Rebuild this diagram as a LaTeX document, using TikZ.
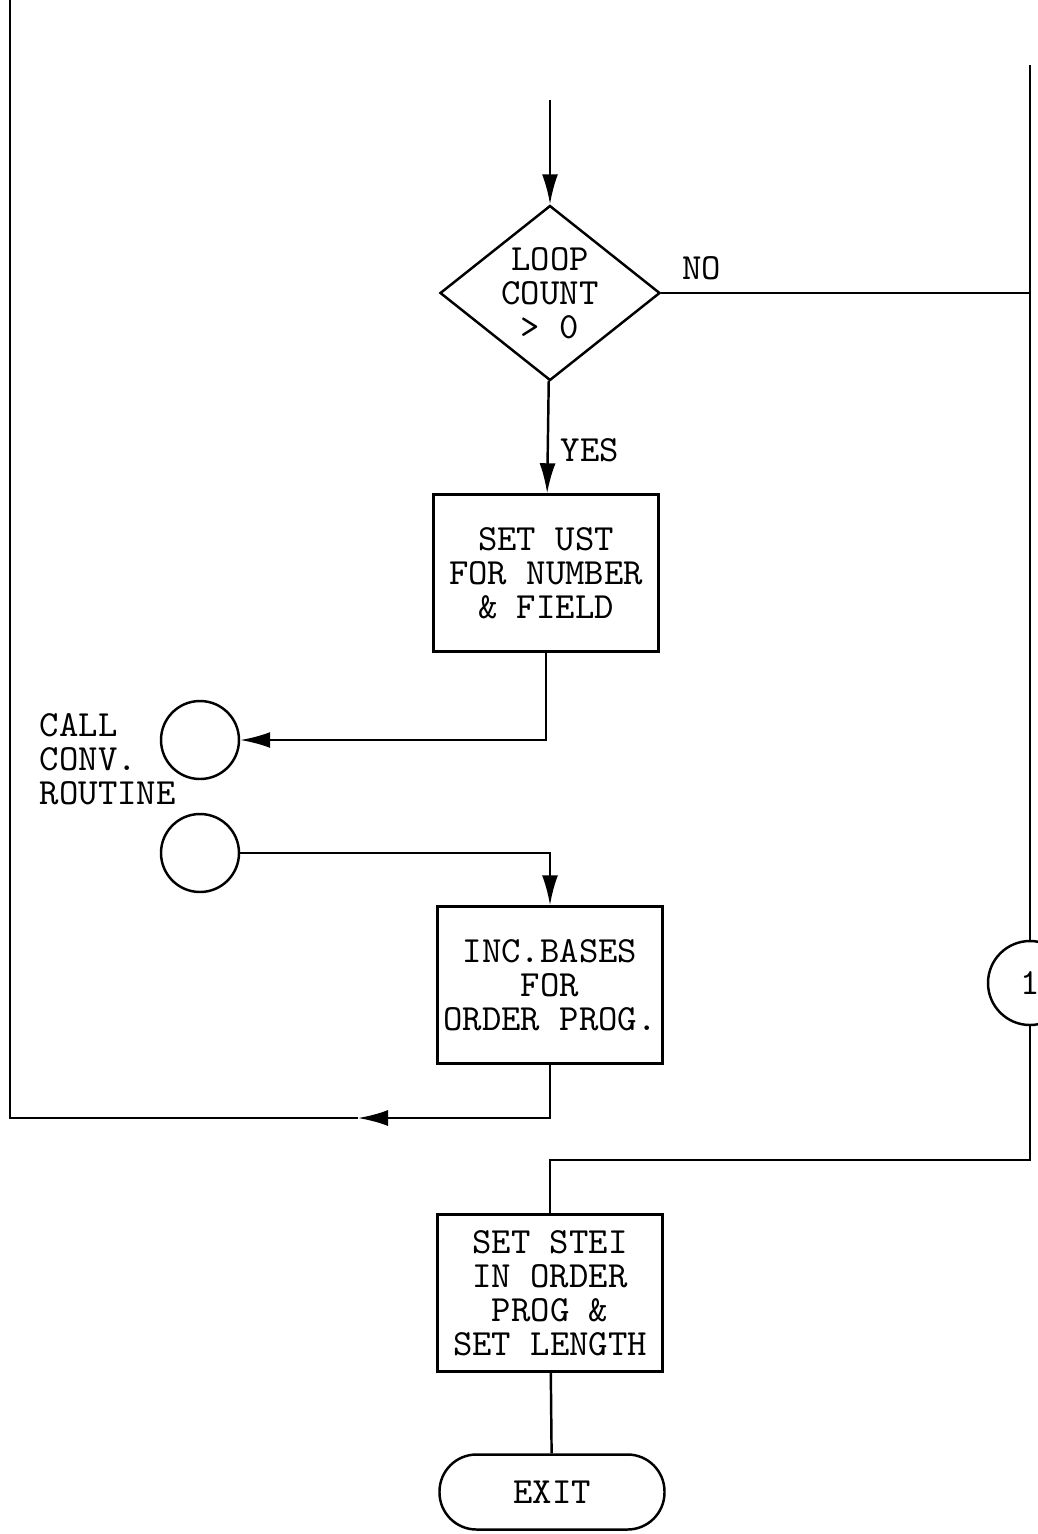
\documentclass[tikz,border=0pt]{standalone}
\usepackage{tikz}
\usetikzlibrary{arrows.meta,shapes.geometric}

\tikzset{
 procbox/.style={draw, rectangle, minimum width=2.25cm, minimum height=1.57cm, inner sep=0pt},
 decbox/.style={draw, diamond, minimum width=2.2cm, minimum height=1.75cm, inner sep=-4pt},
 linkdot/.style={draw, circle, minimum size=0.78cm, inner sep=0pt},
 endbox/.style={draw, rectangle, rounded corners=0.37cm, minimum width=2.25cm, minimum height=0.75cm},
 flow/.style={-{Latex[length=3mm,width=1.6mm]}},
}

\begin{document}
\begin{tikzpicture}[x=0.1mm,y=-0.1mm,line width=0.7pt,
  font=\fontsize{10.5}{9.7}\selectfont\ttfamily,align=center]
 \useasboundingbox (0,0) rectangle (1037,1534);
 % boxes
 \node[decbox] (loop) at (550,293) {LOOP\\COUNT\\> 0};
 \node[procbox] (ust) at (546,573) {SET UST\\FOR NUMBER\\\& FIELD};
 \node[linkdot] (call) at (200,740) {};
 \node[linkdot] (back) at (200,853) {};
 \node[anchor=west,align=left] (calltxt) at (27,759) {CALL\\CONV.\\ROUTINE};
 \node[procbox] (inc) at (550,985) {INC.BASES\\FOR\\ORDER PROG.};
 \node[procbox] (stei) at (550,1293) {SET STEI\\IN ORDER\\PROG \&\\SET LENGTH};
 \node[endbox] (exit) at (552,1492) {EXIT};
 \node[linkdot,minimum size=0.84cm] (off) at (1030,983) {1};
 % free ends
 \coordinate (entry) at (550,100);
 \coordinate (rtop) at (1030,65);
 \coordinate (rbend) at (1030,1160);
 \coordinate (larr) at (358,1118);
 \coordinate (lbend) at (10,1118);
 \coordinate (ltop) at (10,0);
 % lines
 \draw[flow] (entry) -- (loop);
 \draw[flow] (loop) -- node[pos=0.62,right] {YES} (ust);
 \draw (loop.east) -- node[pos=0.11,above] {NO} (loop.east -| rtop);
 \draw (rtop) -- (off);
 \draw (off) -- (rbend) -| (stei);
 \draw[flow] (ust) |- (call);
 \draw[flow] (back) -| (inc);
 \draw[flow] (inc) |- (larr);
 \draw (larr) -- (lbend) -- (ltop);
 \draw (stei) -- (exit);
\end{tikzpicture}
\end{document}
